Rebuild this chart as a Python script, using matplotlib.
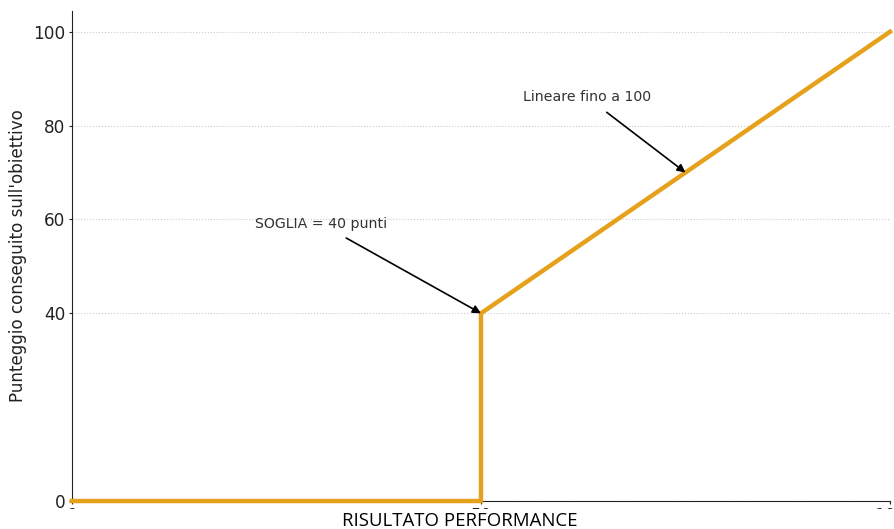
import matplotlib
matplotlib.use("Agg")
import matplotlib.pyplot as plt
from matplotlib.patches import Rectangle

x_vals = [0, 50, 50, 100]
y_vals = [0, 0, 40, 100]
y_ticks = [0, 40, 60, 80, 100]
x_ticks = [0, 50, 100]
ann1_text = "SOGLIA = 40 punti"
ann1_xy = (50, 40)
ann1_txt_pos = (30.5, 59)
ann2_text = "Lineare fino a 100"
ann2_xy = (75, 70)
ann2_txt_pos = (63, 86)

fig = plt.figure(figsize=(8.95, 5.29), dpi=100)
ax = fig.add_axes([0.0804, 0.0529, 0.9140, 0.927])
ax.plot(x_vals, y_vals, color="#E6A11C", lw=3.2, clip_on=False, zorder=3,
        solid_joinstyle="miter")
ax.set_xlim(0, 100)
ax.set_ylim(0, 104.5)
ax.set_yticks(y_ticks)
ax.set_xticks(x_ticks)
ax.tick_params(labelsize=12.2, colors="#222222", pad=2, length=2.5)
for s in ["top", "right"]:
    ax.spines[s].set_visible(False)
ax.spines["left"].set_color("#222222")
ax.spines["bottom"].set_color("#222222")
ax.yaxis.grid(True, linestyle=":", color="#cccccc", lw=0.8)
ax.set_axisbelow(True)
ax.set_ylabel("Punteggio conseguito sull'obiettivo", fontsize=12.1, color="#222222",
              labelpad=5)

for txt, xy, pos in [(ann1_text, ann1_xy, ann1_txt_pos), (ann2_text, ann2_xy, ann2_txt_pos)]:
    ax.annotate(txt, xy=xy, xytext=pos, ha="center", va="center", fontsize=10.2,
                color="#333333",
                arrowprops=dict(arrowstyle="-|>", color="black", lw=1.2,
                                mutation_scale=12, shrinkA=6, shrinkB=0))

# white band covering tick labels (as in reference)
fig.patches.append(Rectangle((0, 0), 1, 20 / 529, transform=fig.transFigure,
                             facecolor="white", edgecolor="none", zorder=10))
fig.text(0.514, -0.002, "RISULTATO PERFORMANCE", ha="center", va="bottom",
         fontsize=13.4, family="Open Sans", color="black", zorder=11)

fig.savefig("out.png", dpi=100)
